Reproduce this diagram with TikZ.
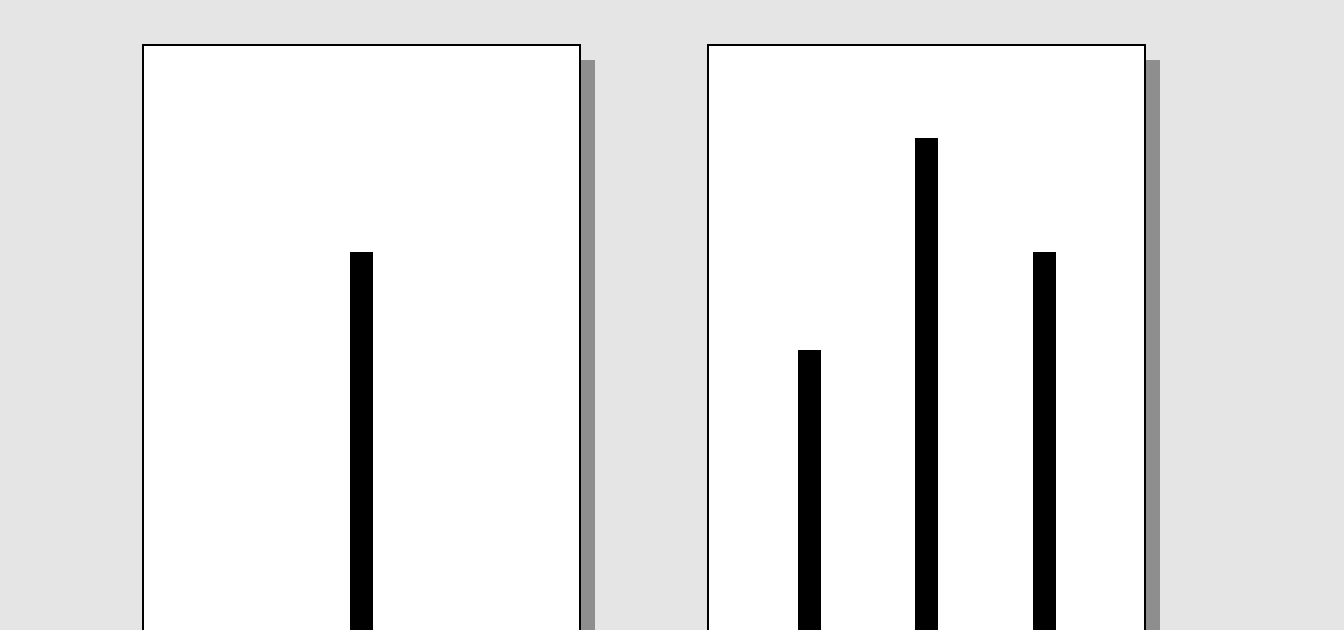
\documentclass[tikz,border=0pt]{standalone}
\usepackage{xcolor}
\usepackage{tikz}
\definecolor{pagegrey}{HTML}{E5E5E5}
\definecolor{shadowgrey}{HTML}{8E8E8E}

\begin{document}
\begin{tikzpicture}[
  x=0.01cm,y=-0.01cm,
  panel/.style={draw=black,fill=white,line width=0.6pt},
  panelshadow/.style={fill=shadowgrey},
  bar/.style={fill=black}
]
\useasboundingbox (0,0) rectangle (1344,630);
\fill[pagegrey] (0,0) rectangle (1344,630);
\clip (0,0) rectangle (1344,630);

% left panel
\fill[panelshadow] (158,60) rectangle (595,700);
\draw[panel] (143,45) rectangle (580,700);
\fill[bar] (350,252) rectangle (373,700);

% right panel
\fill[panelshadow] (723,60) rectangle (1160,700);
\draw[panel] (708,45) rectangle (1145,700);
\foreach \bx/\by in {798/350,915/138,1033/252}
  \fill[bar] (\bx,\by) rectangle (\bx+23,700);
\end{tikzpicture}
\end{document}
